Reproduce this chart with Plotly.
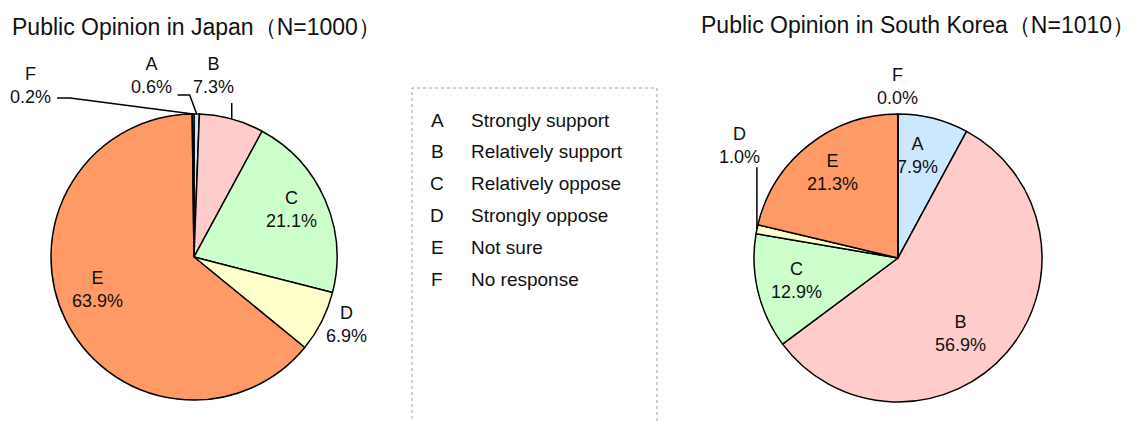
import math
import plotly.graph_objects as go

W, H = 1139, 421

# ---- data -------------------------------------------------------------
codes = ["A", "B", "C", "D", "E", "F"]
answers = ["Strongly support", "Relatively support", "Relatively oppose",
           "Strongly oppose", "Not sure", "No response"]
japan_pct = [0.6, 7.3, 21.1, 6.9, 63.9, 0.2]
korea_pct = [7.9, 56.9, 12.9, 1.0, 21.3, 0.0]
japan_title = "Public Opinion in Japan（N=1000）"
korea_title = "Public Opinion in South Korea（N=1010）"

# ---- style ------------------------------------------------------------
slice_colors = ["#cce8ff", "#ffcccc", "#ccffcc", "#ffffcc", "#ff9966", "#bfbfbf"]
FONT = "Liberation Sans, Arial, sans-serif"
TXT = "#111111"
LABEL_SIZE = 18
TITLE_SIZE = 23
KEY_SIZE = 19

# pie geometry in pixels (centre x, centre y, radius)
japan_geo = (194, 257, 143)
korea_geo = (898, 258, 144)

# label placement per slice:
#   ("in", k, dx, dy)        -> at k*radius along the slice bisector, nudged
#   ("lead", path, tx, ty)   -> leader from the rim along path offsets, text offset
japan_place = {
    "A": ("lead", [(0, 0), (-7, -19), (-19, -19)], -45, -39),
    "B": ("lead", [(0, 0), (0, -16)], -18, -44),
    "C": ("in", 0.76, -2, -4),
    "D": ("in", 1.16, 4, -7),
    "E": ("in", 0.72, -4, -12),
    "F": ("lead", [(0, 0), (-123, -16), (-136, -16)], -163, -29),
}
korea_place = {
    "A": ("in", 0.73, -6, -1),
    "B": ("in", 0.68, -12, 11),
    "C": ("in", 0.725, 0, -2),
    "D": ("lead", [(0, 0), (0, -62)], -17, -84),
    "E": ("in", 0.75, 1, -1),
    "F": ("in", 1.20, -1, 1),
}


def px(x):
    return x / W


def py(y):
    return 1 - y / H


def domain(geo):
    cx, cy, r = geo
    return dict(x=[px(cx - r), px(cx + r)], y=[py(cy + r), py(cy - r)])


def mid_angles(values):
    total = sum(values)
    out, cum = [], 0.0
    for v in values:
        out.append(2 * math.pi * (cum + v / 2) / total)
        cum += v
    return out


fig = go.Figure()
shapes, annotations = [], []


def add_pie(values, geo, place):
    fig.add_trace(go.Pie(
        labels=codes, values=values, sort=False, direction="clockwise",
        rotation=0, domain=domain(geo), textinfo="none", hoverinfo="label+percent",
        marker=dict(colors=slice_colors, line=dict(color="#000000", width=1.5)),
        showlegend=False,
    ))
    cx, cy, r = geo
    for code, v, th in zip(codes, values, mid_angles(values)):
        sx, sy = math.sin(th), -math.cos(th)
        spec = place[code]
        if spec[0] == "in":
            _, k, dx, dy = spec
            tx, ty = cx + k * r * sx + dx, cy + k * r * sy + dy
        else:
            _, path, ox, oy = spec
            ex, ey = cx + r * sx, cy + r * sy
            pts = [(ex + a, ey + b) for a, b in path]
            d = "M " + " L ".join(f"{px(a)},{py(b)}" for a, b in pts)
            shapes.append(dict(type="path", xref="paper", yref="paper", path=d,
                               line=dict(color="#000000", width=1.5)))
            tx, ty = ex + ox, ey + oy
        annotations.append(dict(
            x=px(tx), y=py(ty), xref="paper", yref="paper",
            text=f"{code}<br>{v:.1f}%", showarrow=False,
            xanchor="center", yanchor="middle", align="center",
            font=dict(family=FONT, size=LABEL_SIZE, color=TXT),
        ))


add_pie(japan_pct, japan_geo, japan_place)
add_pie(korea_pct, korea_geo, korea_place)

# titles
annotations.append(dict(x=px(10), y=py(27), xref="paper", yref="paper",
                        text=japan_title, showarrow=False, xanchor="left",
                        yanchor="middle",
                        font=dict(family=FONT, size=TITLE_SIZE, color=TXT)))
annotations.append(dict(x=px(1137), y=py(25), xref="paper", yref="paper",
                        text=korea_title, showarrow=False, xanchor="right",
                        yanchor="middle",
                        font=dict(family=FONT, size=TITLE_SIZE, color=TXT)))

# key box with the answer codes
shapes.append(dict(type="rect", xref="paper", yref="paper",
                   x0=px(412), x1=px(657), y0=py(440), y1=py(88),
                   line=dict(color="#a0a0a0", width=1, dash="dot")))
for i, (code, txt) in enumerate(zip(codes, answers)):
    y = 120 + i * 31.8
    annotations.append(dict(x=px(437), y=py(y), xref="paper", yref="paper",
                            text=code, showarrow=False, xanchor="center",
                            yanchor="middle",
                            font=dict(family=FONT, size=KEY_SIZE, color=TXT)))
    annotations.append(dict(x=px(469), y=py(y), xref="paper", yref="paper",
                            text=txt, showarrow=False, xanchor="left",
                            yanchor="middle",
                            font=dict(family=FONT, size=KEY_SIZE, color=TXT)))

fig.update_layout(
    width=W, height=H, margin=dict(l=0, r=0, t=0, b=0),
    paper_bgcolor="white", plot_bgcolor="white",
    shapes=shapes, annotations=annotations,
)

fig.write_html("out.html")
